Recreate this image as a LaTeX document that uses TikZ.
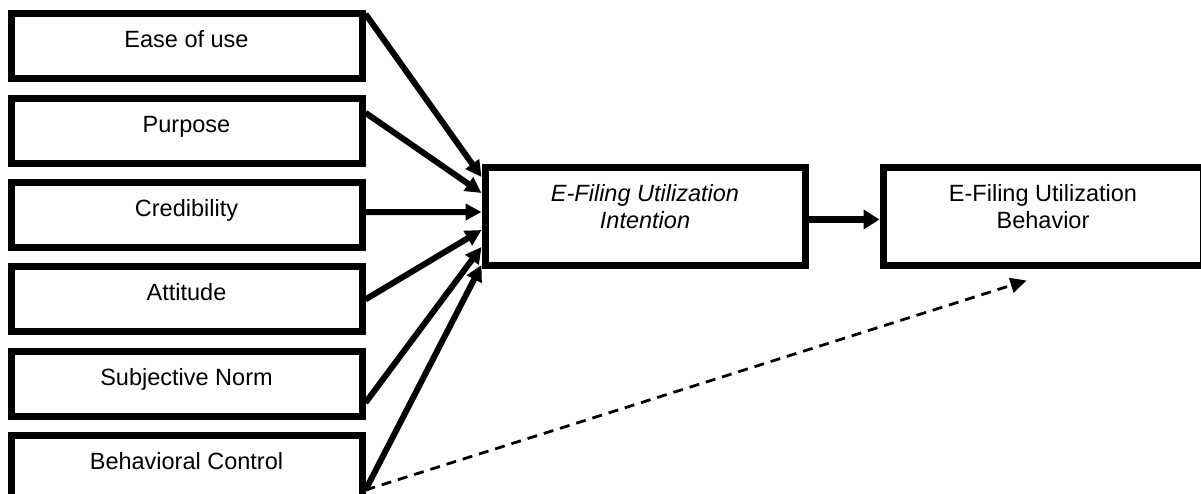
\documentclass[tikz,border=0pt]{standalone}
\usepackage{fontspec}
\setmainfont{Liberation Sans}
\usetikzlibrary{positioning,arrows.meta}

\begin{document}
\begin{tikzpicture}[%
    on grid,
    node distance=84.3pt and 398pt,
    font=\fontsize{23.5}{27}\selectfont,
    factor/.style={%
        draw,
        line width=7pt,
        minimum width=351pt,
        minimum height=65pt,
        inner sep=0pt,
        text height=17pt,
        text depth=14pt,
    },
    stage/.style={%
        draw,
        line width=7pt,
        minimum width=320pt,
        minimum height=97pt,
        inner sep=0pt,
        align=center,
        text height=44pt,
        text depth=19pt,
    },
    link/.style={line width=6pt, -{Triangle[length=16pt,width=16pt]}},
    hint/.style={line width=2.8pt, dash pattern=on 10pt off 7pt, -{Triangle[length=16pt,width=15pt]}}
]
\useasboundingbox (0,0) rectangle (1201pt,-494pt);
    % factors on the left
    \node[factor] (f1) at (186.5pt,-46.5pt) {Ease of use};
    \foreach \x/\name in {2/Purpose,3/Credibility,4/Attitude,5/Subjective Norm,6/Behavioral Control}{%
        \pgfmathtruncatemacro\prev{\x-1};
        \node[factor, below=of f\prev] (f\x) {\name};
    }
    % intention and behavior
    \node[stage] (int) at (645pt,-216.5pt) {\itshape E-Filing Utilization\\\itshape Intention};
    \node[stage, right=of int] (beh) {E-Filing Utilization\\Behavior};
    \coordinate[below right=12pt and 147pt of beh.south west] (tip);
    \foreach \x/\s/\e in {1/32.5/39.5,2/18/23.5,3/3/4.5,4/0/-13.5,5/-19/-30.5,6/-22/-48.5}{%
        \draw[link] ([yshift=\s pt]f\x.east) -- ([yshift=\e pt]int.west);
    }
    \draw[link, line width=7pt, -{Triangle[length=16pt,width=19pt]}] ([yshift=-3pt]int.east) -- ([yshift=-3pt]beh.west);
    \draw[hint] ([yshift=-22pt]f6.east) -- (tip);
\end{tikzpicture}
\end{document}
